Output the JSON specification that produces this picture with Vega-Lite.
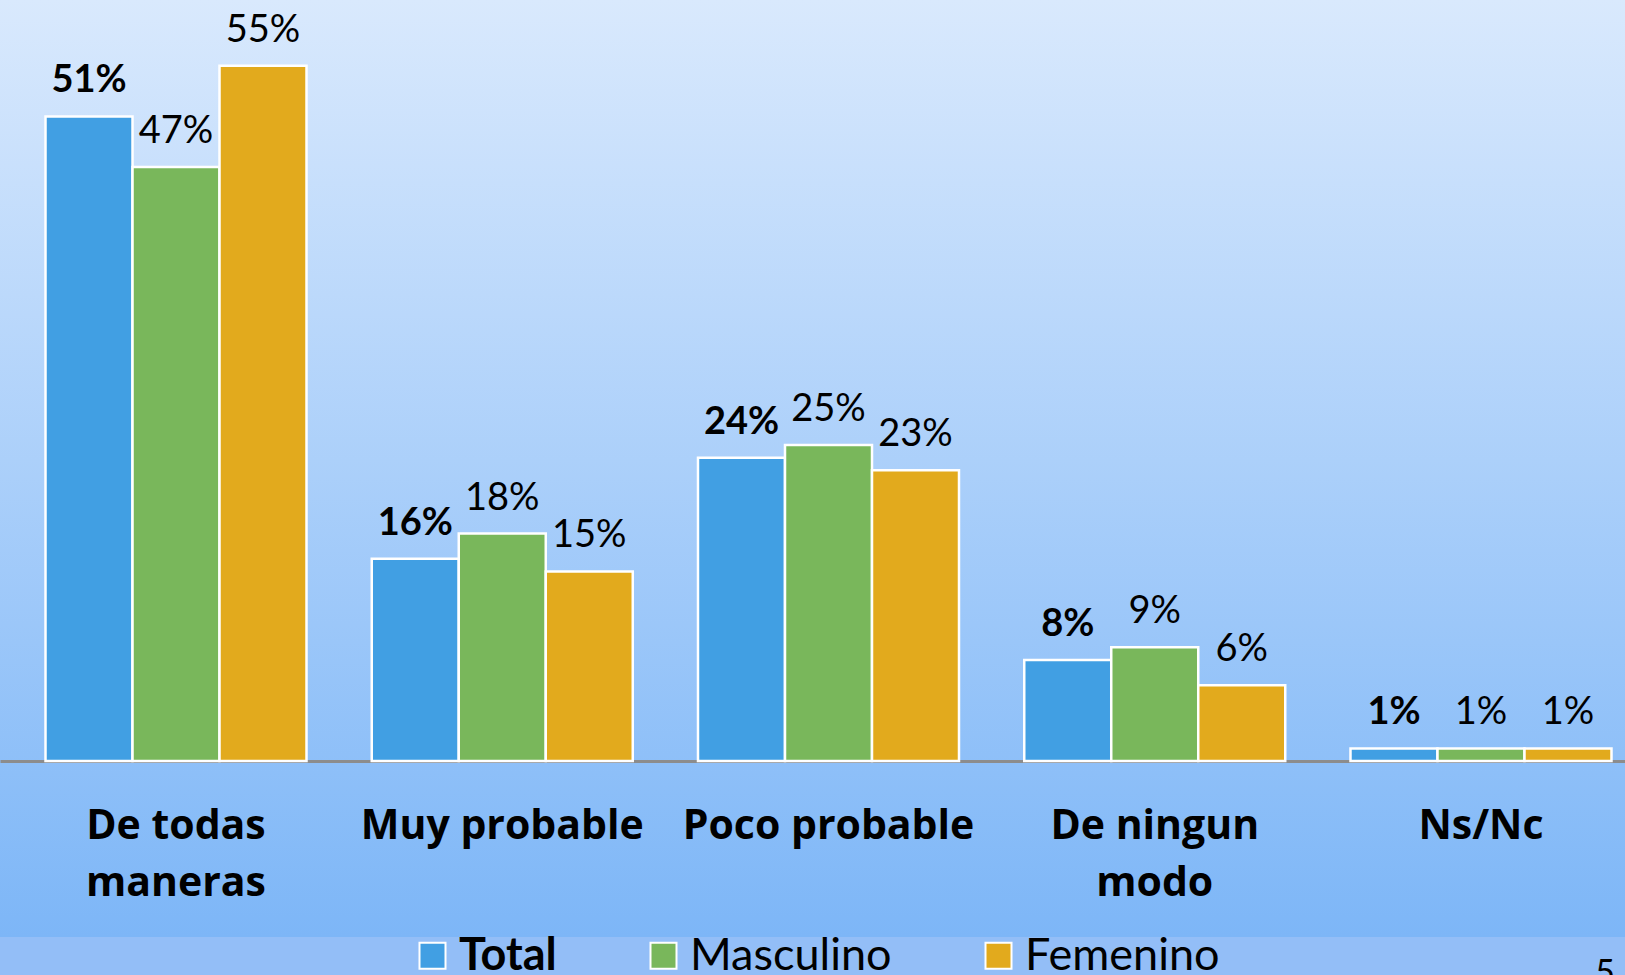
{
  "$schema": "https://vega.github.io/schema/vega-lite/v6.json",
  "width": 1657,
  "height": 937,
  "autosize": {"type": "none"},
  "padding": {"left": 0, "top": 0, "right": 0, "bottom": 38},
  "background": "#93bef7",
  "view": {
    "stroke": null,
    "fill": {
      "gradient": "linear",
      "x1": 0, "y1": 0, "x2": 0, "y2": 1,
      "stops": [
        {"offset": 0, "color": "#d9e9fd"},
        {"offset": 1, "color": "#7db6f7"}
      ]
    }
  },
  "title": {
    "text": "5",
    "orient": "bottom",
    "anchor": "end",
    "frame": "group",
    "offset": -22,
    "dx": -42,
    "fontSize": 34,
    "font": "Lato",
    "fontWeight": "normal",
    "color": "black"
  },
  "data": {
    "values": [
      {"cat": "De todas maneras", "group": "Total", "value": 0.51},
      {"cat": "De todas maneras", "group": "Masculino", "value": 0.47},
      {"cat": "De todas maneras", "group": "Femenino", "value": 0.55},
      {"cat": "Muy probable", "group": "Total", "value": 0.16},
      {"cat": "Muy probable", "group": "Masculino", "value": 0.18},
      {"cat": "Muy probable", "group": "Femenino", "value": 0.15},
      {"cat": "Poco probable", "group": "Total", "value": 0.24},
      {"cat": "Poco probable", "group": "Masculino", "value": 0.25},
      {"cat": "Poco probable", "group": "Femenino", "value": 0.23},
      {"cat": "De ningun modo", "group": "Total", "value": 0.08},
      {"cat": "De ningun modo", "group": "Masculino", "value": 0.09},
      {"cat": "De ningun modo", "group": "Femenino", "value": 0.06},
      {"cat": "Ns/Nc", "group": "Total", "value": 0.01},
      {"cat": "Ns/Nc", "group": "Masculino", "value": 0.01},
      {"cat": "Ns/Nc", "group": "Femenino", "value": 0.01}
    ]
  },
  "encoding": {
    "x": {
      "field": "cat",
      "type": "nominal",
      "sort": null,
      "scale": {"paddingInner": 0.2, "paddingOuter": 0.1395},
      "axis": {
        "title": null,
        "orient": "bottom",
        "offset": -176,
        "domainColor": "#8c8c8c",
        "domainWidth": 3,
        "ticks": false,
        "tickSize": 0,
        "grid": false,
        "labelFont": "Open Sans",
        "labelFontSize": 41,
        "labelFontWeight": "bold",
        "labelColor": "black",
        "labelAngle": 0,
        "labelBaseline": "alphabetic",
        "labelPadding": 77,
        "labelLineHeight": 57,
        "labelLimit": 0,
        "labelExpr": "datum.value == 'De todas maneras' ? ['De todas', 'maneras'] : datum.value == 'De ningun modo' ? ['De ningun', 'modo'] : datum.label"
      }
    },
    "xOffset": {
      "field": "group",
      "type": "nominal",
      "sort": ["Total", "Masculino", "Femenino"],
      "scale": {"paddingInner": 0, "paddingOuter": 0}
    },
    "y": {
      "field": "value",
      "type": "quantitative",
      "scale": {"domain": [-0.1392, 0.6021], "nice": false, "zero": false},
      "axis": null
    }
  },
  "layer": [
    {
      "mark": {"type": "bar", "stroke": "white", "strokeWidth": 2.5},
      "encoding": {
        "color": {
          "field": "group",
          "type": "nominal",
          "sort": ["Total", "Masculino", "Femenino"],
          "scale": {
            "domain": ["Total", "Masculino", "Femenino"],
            "range": ["#419fe3", "#79b75b", "#e2aa1d"]
          },
          "legend": {
            "orient": "none",
            "legendX": 410,
            "legendY": 933,
            "direction": "horizontal",
            "title": null,
            "padding": 0,
            "symbolType": "square",
            "symbolSize": 676,
            "symbolStrokeColor": "white",
            "symbolStrokeWidth": 2,
            "symbolOpacity": 1,
            "labelFont": "Lato",
            "labelFontSize": 45,
            "labelColor": "black",
            "labelOffset": 4,
            "columnPadding": 84,
            "labelLimit": 0,
            "labelFontWeight": {"expr": "datum.label === 'Total' ? 'bold' : 'normal'"}
          }
        }
      }
    },
    {
      "transform": [{"filter": "datum.group === 'Total'"}],
      "mark": {"type": "text", "baseline": "alphabetic", "dy": -24, "font": "Lato", "fontSize": 38, "fontWeight": "bold", "color": "black"},
      "encoding": {"text": {"field": "value", "type": "quantitative", "format": ".0%"}}
    },
    {
      "transform": [{"filter": "datum.group !== 'Total'"}],
      "mark": {"type": "text", "baseline": "alphabetic", "dy": -24, "font": "Lato", "fontSize": 38, "fontWeight": "normal", "color": "black"},
      "encoding": {"text": {"field": "value", "type": "quantitative", "format": ".0%"}}
    }
  ]
}
